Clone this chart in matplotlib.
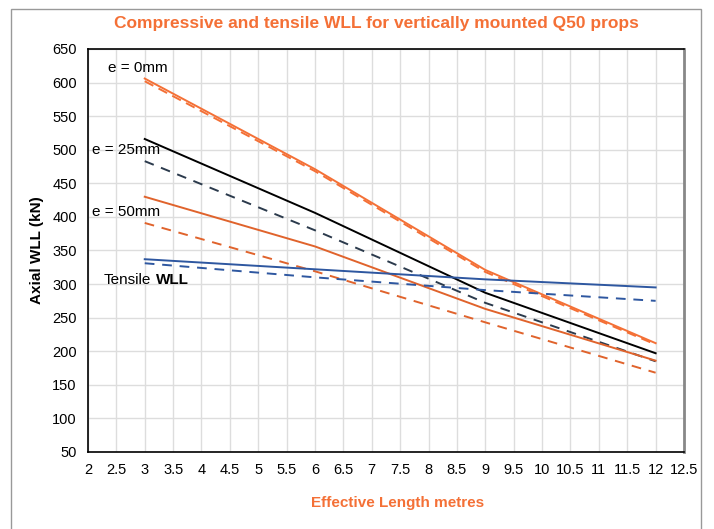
import matplotlib.pyplot as plt
from matplotlib.patches import Rectangle

# effective length (m)
length = [3, 6, 9, 12]

# e = 0mm
e0_solid = [606, 471, 321, 212]
e0_dash = [602, 468, 318, 210]
# e = 25mm
e25_solid = [516, 406, 287, 197]
e25_dash = [483, 380, 272, 185]
# e = 50mm
e50_solid = [430, 356, 263, 186]
e50_dash = [391, 319, 243, 168]
# tensile
tens_solid = [337, 322, 307, 295]
tens_dash = [331, 310, 291, 275]

xticks = [2 + 0.5 * i for i in range(22)]
yticks = list(range(50, 651, 50))

ORANGE = '#F47036'
ORANGE2 = '#E0632C'
NAVY = '#2B3A4C'
BLUE = '#2E57A0'


def main():
    plt.rcParams['font.family'] = ['Liberation Sans', 'DejaVu Sans']
    fig = plt.figure(figsize=(7.14, 5.29), dpi=100)
    ax = fig.add_axes([0.1232, 0.1456, 0.8348, 0.7618])

    ax.plot(length, e0_solid, '-', color=ORANGE, lw=1.4)
    ax.plot(length, e0_dash, '--', color=ORANGE, lw=1.4, dashes=(5, 3))
    ax.plot(length, e25_solid, '-', color='black', lw=1.4)
    ax.plot(length, e25_dash, '--', color=NAVY, lw=1.4, dashes=(5, 4))
    ax.plot(length, e50_solid, '-', color=ORANGE2, lw=1.4)
    ax.plot(length, e50_dash, '--', color=ORANGE2, lw=1.4, dashes=(5, 4))
    ax.plot(length, tens_solid, '-', color=BLUE, lw=1.4)
    ax.plot(length, tens_dash, '--', color=BLUE, lw=1.4, dashes=(5, 4))

    ax.set_xlim(2, 12.5)
    ax.set_ylim(50, 650)
    ax.set_xticks(xticks)
    ax.set_xticklabels(['{:g}'.format(t) for t in xticks])
    ax.set_yticks(yticks)
    ax.tick_params(length=0, labelsize=10.5, pad=8)
    ax.grid(True, color='#dddddd', lw=1)
    ax.set_axisbelow(True)
    for s in ['left', 'bottom', 'top']:
        ax.spines[s].set_color('black')
        ax.spines[s].set_linewidth(1.2)
    ax.spines['right'].set_color('#888888')
    ax.spines['right'].set_linewidth(2)

    ax.text(2.35, 622, 'e = 0mm', fontsize=11, va='center')
    ax.text(2.07, 500, 'e = 25mm', fontsize=11, va='center')
    ax.text(2.07, 408, 'e = 50mm', fontsize=11, va='center')
    ax.text(2.27, 306, 'Tensile', fontsize=11, va='center')
    ax.text(3.2, 306, 'WLL', fontsize=11, fontweight='bold', va='center')

    ax.set_ylabel('Axial WLL (kN)', fontsize=11, fontweight='bold', labelpad=6)
    fig.text(0.557, 0.049, 'Effective Length metres', color=ORANGE, fontsize=11,
             fontweight='bold', ha='center', va='center')
    fig.text(0.527, 0.956, 'Compressive and tensile WLL for vertically mounted Q50 props',
             color=ORANGE, fontsize=12.5, fontweight='bold', ha='center', va='center')

    fig.patches.append(Rectangle((11 / 714, -0.05), 690 / 714, 1 - 9 / 529 + 0.05,
                                 transform=fig.transFigure, fill=False,
                                 edgecolor='#999999', lw=1))
    fig.savefig('out.png', dpi=100)


if __name__ == "__main__":
    main()
